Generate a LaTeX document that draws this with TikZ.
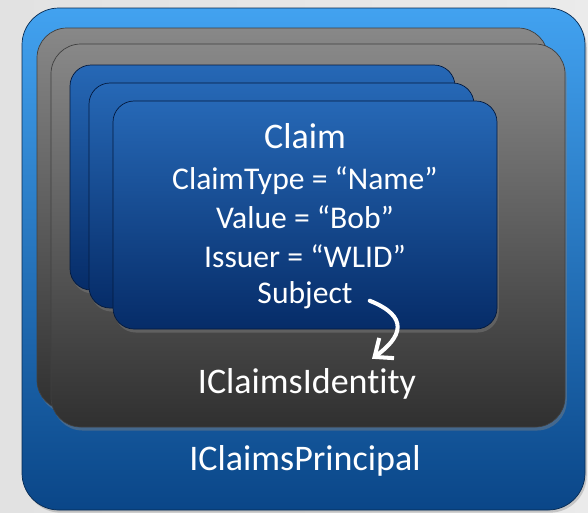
\documentclass[tikz,border=0pt]{standalone}
\usepackage{fontspec}
\setmainfont{Carlito}[Ligatures=NoCommon]
\usepackage{tikz}
\usetikzlibrary{arrows.meta,shadows,calc}
\definecolor{page-gray}{RGB}{226,226,226}
\definecolor{principal-top}{RGB}{66,162,240}
\definecolor{principal-mid}{RGB}{30,108,196}
\definecolor{principal-bottom}{RGB}{10,70,136}
\definecolor{identity-top}{RGB}{136,136,136}
\definecolor{identity-bottom}{RGB}{48,48,48}
\definecolor{claim-top}{RGB}{38,104,182}
\definecolor{claim-bottom}{RGB}{6,44,104}
\tikzstyle{principal}=[top color=principal-top, middle color=principal-mid, bottom color=principal-bottom, draw=principal-bottom!60!black, rounded corners=21pt, drop shadow={shadow xshift=1pt, shadow yshift=-1.5pt, opacity=.35}]
\tikzstyle{identity}=[top color=identity-top, bottom color=identity-bottom, draw=black!75, rounded corners=17pt, drop shadow={shadow xshift=1pt, shadow yshift=-2pt, opacity=.45}]
\tikzstyle{claim}=[top color=claim-top, bottom color=claim-bottom, draw=claim-bottom!60!black, rounded corners=12pt, drop shadow={shadow xshift=1pt, shadow yshift=-2pt, opacity=.45}]
\tikzstyle{bigtext}=[text=white, font=\fontsize{20.5}{24}\selectfont, anchor=base]
\tikzstyle{smalltext}=[text=white, font=\fontsize{18}{22}\selectfont, anchor=base]
\newcommand{\layerBox}[3]{
	\path[#1] #2 rectangle #3;
}

\begin{document}
\begin{tikzpicture}[x=0.02cm,y=-0.02cm]
	\useasboundingbox[left color=page-gray, right color=page-gray!70] (0,0) rectangle (588,512);
	\layerBox{principal}{(22,8)}{(585,510)}
	\layerBox{identity}{(37,28)}{(548,410)}
	\layerBox{identity}{(51,44)}{(565,427)}
	\layerBox{claim}{(70,65)}{(455,290)}
	\layerBox{claim}{(89,83)}{(474,308)}
	\layerBox{claim}{(113,101)}{(497,329)}
	\node[bigtext] (claim) at (305,148) {Claim};
	\node[smalltext] (type) at (305,189) {ClaimType = “Name”};
	\node[smalltext] (value) at (305,228) {Value = “Bob”};
	\node[smalltext] (issuer) at (305,267) {Issuer = “WLID”};
	\node[smalltext] (subject) at (305,303) {Subject};
	\node[bigtext] (ident) at (307,393) {IClaimsIdentity};
	\node[bigtext] (princ) at (305,470) {IClaimsPrincipal};
	\draw[white, line width=2.3pt, line cap=round, -{Straight Barb[length=3mm,width=5mm]}]
		($(subject.east)+(11,6)$) .. controls +(40,16) and +(30,-22) .. ($(ident.north)+(65,-3)$);
\end{tikzpicture}
\end{document}
